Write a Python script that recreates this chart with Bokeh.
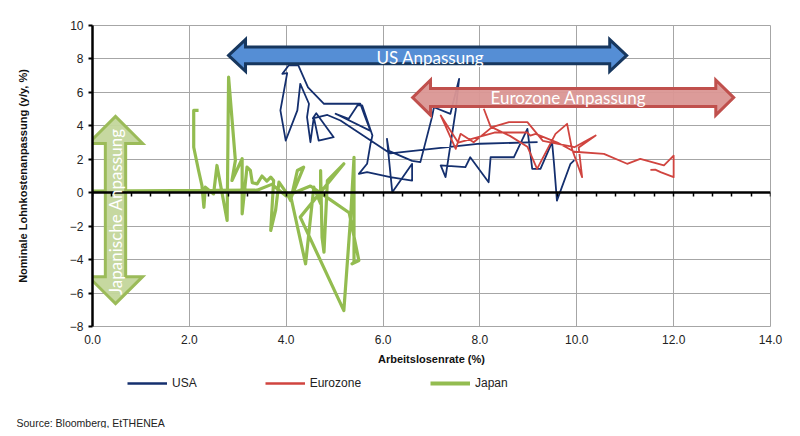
import numpy as np
from bokeh.plotting import figure
from bokeh.layouts import column
from bokeh.models import (LinearAxis, FixedTicker, SingleIntervalTicker, Range1d, Legend, LegendItem,
                          Label, PrintfTickFormatter)
from bokeh.embed import file_html
from bokeh.resources import INLINE

# ---------------- data ----------------
usa_x = [9.19, 8.0, 6.15, 5.12, 4.85, 4.55, 4.62, 4.98, 4.67, 4.57, 4.50, 4.43, 4.47, 4.29, 4.23, 3.99,
         3.88, 4.02, 3.92, 4.05, 4.25, 4.45, 4.78, 5.53, 5.62, 5.74, 5.02, 5.29, 5.47, 5.57, 5.78, 5.74,
         5.67, 5.50, 5.67, 6.15, 6.60, 6.60, 6.19, 6.08, 6.12, 6.60, 6.77, 7.01, 7.05, 7.39, 7.57, 7.50,
         7.29, 7.19, 7.70, 7.80, 8.18, 8.22, 8.70, 8.98, 9.08, 9.25, 9.49, 9.53, 9.59, 9.87, 9.95]
usa_y = [3.02, 2.93, 2.35, 4.32, 4.65, 4.45, 4.75, 3.32, 3.12, 4.52, 3.02, 4.52, 5.32, 6.51, 4.92, 3.12,
         4.92, 7.15, 7.11, 7.61, 7.62, 6.30, 5.32, 5.32, 4.60, 3.70, 4.72, 4.42, 5.22, 5.22, 3.42, 2.92,
         1.73, 1.13, 1.23, 0.93, 0.73, 1.73, 0.03, 3.22, 2.50, 1.90, 1.83, 4.52, 5.11, 4.72, 6.81, 4.92,
         0.93, 1.63, 1.53, 2.12, 0.63, 2.12, 2.12, 3.82, 1.43, 1.43, 3.02, 1.73, -0.47, 1.73, 1.95]

euro_x = [8.08, 8.22, 8.62, 8.98, 9.18, 9.56, 9.80, 9.90, 10.11, 10.04, 10.39, 9.95, 9.30, 8.98, 8.60,
          8.25, 7.87, 7.60, 7.50, 7.19, 7.55, 8.30, 8.98, 9.04, 9.15, 9.60, 9.95, 10.56, 11.04, 11.31,
          11.80, 12.0, 12.0, 11.73, 11.62, 11.52]
euro_y = [5.02, 3.95, 3.40, 2.75, 1.43, 3.52, 4.12, 2.62, 0.93, 2.70, 3.42, 2.72, 3.10, 4.22, 4.22,
          3.92, 3.02, 3.52, 2.62, 4.62, 3.00, 3.60, 3.60, 3.42, 3.52, 3.00, 2.45, 2.32, 1.73, 2.02,
          1.63, 2.22, 0.93, 1.23, 1.38, 1.37]

japan_x = [2.19, 2.09, 2.09, 2.19, 2.26, 2.30, 2.33, 2.50, 2.57, 2.78, 2.81, 2.95, 2.88, 3.09, 3.09,
           3.19, 3.26, 3.30, 3.40, 3.50, 3.60, 3.68, 3.74, 3.68, 3.78, 3.85, 4.02, 4.09, 4.23, 4.36,
           4.10, 4.40, 4.57, 4.71, 4.71, 4.74, 4.78, 4.85, 5.19, 4.29, 5.19, 5.33, 5.40, 5.40, 5.36,
           5.50, 5.30, 4.90, 4.50, 4.00, 3.70, 3.40, 0.0]
japan_y = [4.92, 4.92, 2.72, 1.33, 0.43, -0.87, 0.33, -0.07, 1.63, -1.66, 6.91, 1.93, 0.73, 2.03, -1.26,
           1.53, 1.33, 0.60, 0.53, 1.00, 0.70, 0.93, 0.73, -2.26, -1.06, 0.63, -0.07, -0.47, 1.33, 1.53,
           -0.30, -4.25, 0.33, -0.66, 1.33, -2.66, -3.56, 0.73, 1.73, -1.46, -7.05, -1.46, 2.12, -4.16, -4.25,
           -4.05, -1.20, -0.40, 0.40, -0.20, 0.50, 0.15, 0.10]

x_ticks = [0, 2, 4, 6, 8, 10, 12, 14]
y_ticks = [-8, -6, -4, -2, 0, 2, 4, 6, 8, 10]

series_names = ["USA", "Eurozone", "Japan"]
series_colors = ["#142F6E", "#D0443F", "#93BC50"]
series_widths = [1.8, 1.8, 3.2]
source_text = "Source: Bloomberg, EtTHENEA"

# annotation arrows: (start, end, centre, body half, head half, head length) in data units
us_arrow = (2.81, 11.03, 8.21, 0.50, 0.95, 0.35)
euro_arrow = (6.61, 13.24, 5.69, 0.54, 1.05, 0.37)
japan_arrow = (-6.63, 4.56, 0.475, 0.21, 0.56, 1.61)

FONT = "Liberation Sans"
W = 792
H_MAIN = 371
H_FOOT = 57

p = figure(width=W, height=H_MAIN, output_backend="svg", toolbar_location=None,
           x_range=Range1d(0, 14), y_range=Range1d(-8, 10),
           min_border_left=92, min_border_right=22, min_border_top=25, min_border_bottom=45,
           background_fill_color="white", border_fill_color="white")
p.outline_line_color = "#A6A6A6"
p.outline_line_width = 1

# grids
p.xgrid.ticker = FixedTicker(ticks=x_ticks)
p.ygrid.ticker = FixedTicker(ticks=y_ticks)
for g in (p.xgrid, p.ygrid):
    g.grid_line_color = "#A6A6A6"
    g.grid_line_width = 1

# bottom axis (labels only)
xa = p.xaxis[0]
xa.ticker = FixedTicker(ticks=x_ticks)
xa.formatter = PrintfTickFormatter(format="%.1f")
xa.axis_line_color = None
xa.major_tick_line_color = None
xa.minor_tick_line_color = None
xa.major_tick_out = 0
xa.major_label_standoff = 8
xa.major_label_text_font = FONT
xa.major_label_text_font_size = "12px"
xa.major_label_text_color = "#222222"
xa.axis_label = "Arbeitslosenrate (%)"
xa.axis_label_text_font = FONT
xa.axis_label_text_font_size = "11px"
xa.axis_label_text_font_style = "bold"
xa.axis_label_text_color = "#111111"
xa.axis_label_standoff = 6

# left axis
ya = p.yaxis[0]
ya.ticker = FixedTicker(ticks=y_ticks)
ya.axis_line_color = "black"
ya.axis_line_width = 2.5
ya.major_tick_line_color = "black"
ya.major_tick_line_width = 2
ya.major_tick_out = 4
ya.major_tick_in = 0
ya.minor_tick_line_color = None
ya.major_label_standoff = 5
ya.major_label_text_font = FONT
ya.major_label_text_font_size = "12px"
ya.major_label_text_color = "#222222"
ya.axis_label = "Nominale Lohnkostenanpassung (y/y, %)"
ya.axis_label_text_font = FONT
ya.axis_label_text_font_size = "11px"
ya.axis_label_text_font_style = "bold"
ya.axis_label_text_color = "#111111"
ya.axis_label_standoff = 38

# zero axis line with small ticks
zero_axis = LinearAxis(fixed_location=0, ticker=SingleIntervalTicker(interval=0.4),
                       major_label_text_font_size="0px", major_label_text_alpha=0,
                       axis_line_color="black", axis_line_width=2.5,
                       major_tick_line_color="black", major_tick_line_width=1.5,
                       major_tick_in=4, major_tick_out=0, minor_tick_line_color=None)
p.add_layout(zero_axis, "above")

# series lines
series_xy = [(usa_x, usa_y), (euro_x, euro_y), (japan_x, japan_y)]
for (sx, sy), c, w in zip(series_xy, series_colors, series_widths):
    p.line(sx, sy, line_color=c, line_width=w, line_join="round")


def h_arrow(spec):
    x0, x1, yc, h1, h2, L = spec
    xs = [x0, x0 + L, x0 + L, x1 - L, x1 - L, x1, x1 - L, x1 - L, x0 + L, x0 + L]
    ys = [yc, yc + h2, yc + h1, yc + h1, yc + h2, yc, yc - h2, yc - h1, yc - h1, yc - h2]
    return xs, ys


def v_arrow(spec):
    y0, y1, xc, w1, w2, L = spec
    ys = [y0, y0 + L, y0 + L, y1 - L, y1 - L, y1, y1 - L, y1 - L, y0 + L, y0 + L]
    xs = [xc, xc + w2, xc + w1, xc + w1, xc + w2, xc, xc - w2, xc - w1, xc - w1, xc - w2]
    return xs, ys


ax, ay = h_arrow(us_arrow)
p.patch(ax, ay, fill_color="#558ED5", line_color="#17375E", line_width=3, line_join="miter")
ax, ay = h_arrow(euro_arrow)
p.patch(ax, ay, fill_color="#DA9694", fill_alpha=0.95, line_color="#C0504D", line_width=3, line_join="miter")
ax, ay = v_arrow(japan_arrow)
p.patch(ax, ay, fill_color="#C3D69B", fill_alpha=0.95, line_color="#9BBB59", line_width=3, line_join="miter")

TFONT = "Lato"
p.add_layout(Label(x=(us_arrow[0] + us_arrow[1]) / 2 + 0.1, y=us_arrow[2] - 0.1, text="US  Anpassung",
                   text_color="white", text_font=TFONT, text_font_size="17px",
                   text_align="center", text_baseline="middle"))
p.add_layout(Label(x=(euro_arrow[0] + euro_arrow[1]) / 2 - 0.1, y=euro_arrow[2], text="Eurozone Anpassung",
                   text_color="white", text_font=TFONT, text_font_size="17px",
                   text_align="center", text_baseline="middle"))
p.add_layout(Label(x=japan_arrow[2], y=(japan_arrow[0] + japan_arrow[1]) / 2 - 0.1, text="Japanische Anpassung",
                   text_color="white", text_font=TFONT, text_font_size="17px", angle=np.pi / 2,
                   text_align="center", text_baseline="middle"))

# ---------------- footer figure: legend + source ----------------
f = figure(width=W, height=H_FOOT, output_backend="svg", toolbar_location=None,
           x_range=Range1d(0, W), y_range=Range1d(0, H_FOOT),
           x_axis_location=None, y_axis_location=None,
           min_border=0, background_fill_color="white", border_fill_color="white")
f.frame_align = False
f.outline_line_color = None
f.grid.visible = False

items = []
for name, c, w in zip(series_names, series_colors, series_widths):
    r = f.line([-100, -90], [-100, -100], line_color=c, line_width=w + 0.8)
    items.append(LegendItem(label=name, renderers=[r]))

legend_kw = dict(orientation="horizontal", spacing=68,
                 glyph_width=40, glyph_height=16, label_height=16, label_standoff=5, padding=0, margin=0,
                 border_line_color=None, background_fill_alpha=0,
                 label_text_font=FONT, label_text_font_size="12px", label_text_color="#222222")
f.add_layout(Legend(items=items[:2], location=(127, 37), **legend_kw), "center")
f.add_layout(Legend(items=items[2:], location=(430, 37), **legend_kw), "center")

f.add_layout(Label(x=16, y=6, text=source_text, text_font=FONT, text_font_size="10.5px",
                   text_color="#222222", text_baseline="middle"))

layout = column(p, f, spacing=0)
open("out.html", "w").write(file_html(layout, INLINE))
